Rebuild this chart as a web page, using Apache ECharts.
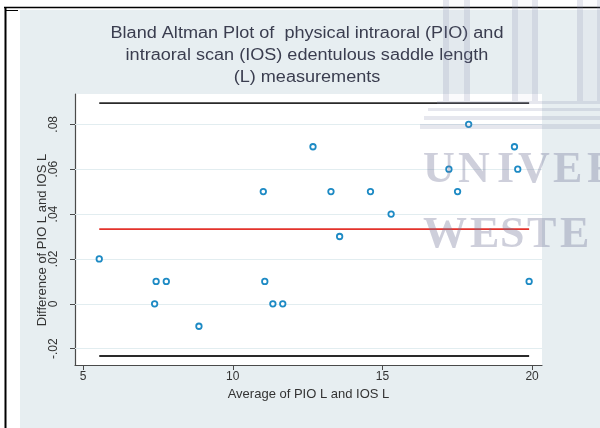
<!DOCTYPE html>
<html><head><meta charset="utf-8">
<script src="https://cdn.jsdelivr.net/npm/echarts@6/dist/echarts.min.js"></script>
<style>html,body{margin:0;padding:0;background:#fff}#c{width:600px;height:428px}</style>
</head><body><div id="c"></div>
<script>
const titleLines = ['Bland Altman Plot of  physical intraoral (PIO) and', 'intraoral scan (IOS) edentulous saddle length', '(L) measurements'];
const xAxisTitle = 'Average of PIO L and IOS L';
const yAxisTitle = 'Difference of PIO L and IOS L';
const avgVals  = [5.54, 7.39, 7.44, 7.78, 8.87, 11.02, 11.07, 11.34, 11.67, 12.68, 13.28, 13.57, 14.6, 15.29, 17.22, 17.51, 17.88, 19.41, 19.52, 19.9];
const diffVals = [0.02, 0, 0.01, 0.01, -0.01, 0.05, 0.01, 0, 0, 0.07, 0.05, 0.03, 0.05, 0.04, 0.06, 0.05, 0.08, 0.07, 0.06, 0.01];
const lineXRange = [5.54, 19.9];
const meanDiff = 0.0333;
const upperLimit = 0.0894;
const lowerLimit = -0.02325;
const xTicks = [5, 10, 15, 20];
const yTicks = [-0.02, 0, 0.02, 0.04, 0.06, 0.08];
const yTickLabels = ['-.02', '0', '.02', '.04', '.06', '.08'];
const watermarkWords = ['UNIVER', 'WESTE'];

const chart = echarts.init(document.getElementById('c'), null, {renderer: 'canvas'});
const FONT = '"Liberation Sans", Arial, sans-serif';
const hline = (y, color, w, z) => ({
  type: 'line', data: [[lineXRange[0], y], [lineXRange[1], y]], symbol: 'none', silent: true, z: z,
  lineStyle: {color: color, width: w}, animation: false
});

// watermark letters
const wmFont = 'bold 44px "Liberation Serif", "Times New Roman", serif';
const wmColor = 'rgba(110,115,150,0.34)';
const letterX = [[423, 458, 497, 518, 553, 587], [423, 470, 500, 527, 560]];
const wmBase = [193, 258];
const wmEls = [];
watermarkWords.forEach((w, r) => {
  w.split('').forEach((ch, i) => {
    wmEls.push({type: 'text', z: 100, silent: true, x: letterX[r][i], y: wmBase[r],
      style: {text: ch, font: wmFont, fill: wmColor, textAlign: 'left', textVerticalAlign: 'bottom'}});
  });
});
const pillarEls = [];
[[443, 27], [512, 26], [577, 26]].forEach(p => {
  pillarEls.push({type: 'rect', z: 100, silent: true, shape: {x: p[0], y: 0, width: p[1], height: 101},
    style: {fill: 'rgba(150,155,190,0.05)'}});
  [p[0], p[0] + p[1] - 6].forEach(ex => pillarEls.push({type: 'rect', z: 100, silent: true,
    shape: {x: ex, y: 0, width: 6, height: 101}, style: {fill: 'rgba(125,130,170,0.16)'}}));
});
const stepEls = [[437, 101, 3], [428, 108, 3], [424, 116, 4], [420, 124, 5]].map(s => ({
  type: 'rect', z: 100, silent: true, shape: {x: s[0], y: s[1], width: 600 - s[0], height: s[2]},
  style: {fill: 'rgba(130,135,170,0.2)'}
}));

const option = {
  animation: false,
  backgroundColor: '#e7eef1',
  grid: {left: 75, right: 58, top: 94, bottom: 63, show: true, backgroundColor: '#ffffff', borderWidth: 0},
  xAxis: {
    type: 'value', min: 4.73, max: 20.33, splitLine: {show: false},
    axisLine: {onZero: false, lineStyle: {color: '#4a4a4a', width: 1.2}},
    axisTick: {customValues: xTicks, length: 5, lineStyle: {color: '#4a4a4a'}},
    axisLabel: {customValues: xTicks, fontSize: 12, color: '#333', margin: 6, fontFamily: FONT},
    name: xAxisTitle, nameLocation: 'middle', nameGap: 21,
    nameTextStyle: {fontSize: 13, color: '#333', fontFamily: FONT}
  },
  yAxis: {
    type: 'value', min: -0.02726, max: 0.0935, splitLine: {show: false},
    axisLine: {show: true, onZero: false, lineStyle: {color: '#4a4a4a', width: 1.2}},
    axisTick: {show: true, customValues: yTicks, length: 5, lineStyle: {color: '#4a4a4a'}},
    axisLabel: {customValues: yTicks, rotate: 90, fontSize: 12, color: '#333', margin: 15, fontFamily: FONT,
      formatter: v => { const i = yTicks.findIndex(t => Math.abs(t - v) < 1e-9); return i >= 0 ? yTickLabels[i] : ''; }}
  },
  series: [
    {type: 'line', data: [], z: 1, silent: true,
      markLine: {silent: true, symbol: 'none', label: {show: false}, animation: false,
        lineStyle: {color: '#e2edf0', width: 1, type: 'solid'},
        data: yTicks.map(v => ({yAxis: v}))}},
    hline(upperLimit, '#2a2a2a', 1.8, 3),
    hline(lowerLimit, '#2a2a2a', 1.8, 3),
    hline(meanDiff, '#e3322b', 1.6, 3),
    {type: 'scatter', z: 5, symbol: 'circle', symbolSize: 5.5,
      itemStyle: {color: '#ffffff', borderColor: '#1d8ac4', borderWidth: 1.8, opacity: 1},
      data: avgVals.map((x, i) => [x, diffVals[i]])}
  ],
  graphic: [
    {type: 'rect', z: -1, silent: true, shape: {x: 0, y: 0, width: 600, height: 10}, style: {fill: '#fff'}},
    {type: 'rect', z: -1, silent: true, shape: {x: 0, y: 0, width: 20, height: 428}, style: {fill: '#fff'}},
    {type: 'line', z: 50, silent: true, shape: {x1: 4, y1: 7.5, x2: 600, y2: 7.5}, style: {stroke: '#000', lineWidth: 1.5}},
    {type: 'line', z: 50, silent: true, shape: {x1: 5.5, y1: 7, x2: 5.5, y2: 428}, style: {stroke: '#000', lineWidth: 2}},
    {type: 'line', z: 50, silent: true, shape: {x1: 6, y1: 10.5, x2: 18, y2: 10.5}, style: {stroke: '#000', lineWidth: 1}},
    ...titleLines.map((t, i) => ({type: 'text', z: 20, silent: true, x: 307, y: 34 + i * 22, scaleX: 1.13,
      style: {text: t, font: '16px ' + FONT, fill: '#3a3d4f', textAlign: 'center', textVerticalAlign: 'middle'}})),
    {type: 'text', z: 20, silent: true, x: 42, y: 240, rotation: Math.PI / 2,
      style: {text: yAxisTitle, font: '13px ' + FONT, fill: '#333', textAlign: 'center', textVerticalAlign: 'middle'}},
    ...pillarEls, ...stepEls, ...wmEls
  ]
};
chart.setOption(option);
</script></body></html>
